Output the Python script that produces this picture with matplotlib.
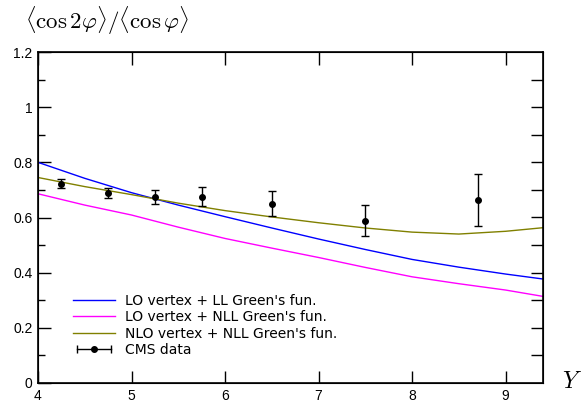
import numpy as np
import matplotlib.pyplot as plt
from matplotlib.ticker import MultipleLocator
from matplotlib.lines import Line2D
from matplotlib.legend_handler import HandlerLine2D

plt.rcParams['mathtext.fontset'] = 'cm'

# theory curves
Y = [4.0, 4.5, 5.0, 5.5, 6.0, 6.5, 7.0, 7.5, 8.0, 8.5, 9.0, 9.4]
lo_ll = [0.800, 0.742, 0.690, 0.645, 0.603, 0.562, 0.522, 0.484, 0.448, 0.420, 0.395, 0.377]
lo_nll = [0.686, 0.645, 0.609, 0.565, 0.524, 0.489, 0.455, 0.419, 0.385, 0.360, 0.337, 0.314]
nlo_nll = [0.745, 0.712, 0.683, 0.652, 0.625, 0.602, 0.581, 0.562, 0.547, 0.540, 0.550, 0.563]

# CMS data
Y_cms = [4.25, 4.75, 5.25, 5.75, 6.5, 7.5, 8.7]
val_cms = [0.722, 0.690, 0.674, 0.675, 0.650, 0.589, 0.664]
err_cms = [0.016, 0.018, 0.025, 0.034, 0.046, 0.057, 0.095]

fig = plt.figure(figsize=(5.82, 4.04), dpi=100)
ax = fig.add_axes([38/582, 21/404, 505/582, 331/404])

l1, = ax.plot(Y, lo_ll, color='#0000ff', lw=1)
l2, = ax.plot(Y, lo_nll, color='#ff00ff', lw=1)
l3, = ax.plot(Y, nlo_nll, color='#808000', lw=1)
ax.errorbar(Y_cms, val_cms, yerr=err_cms, fmt='o', color='black', ms=4,
            capsize=3, elinewidth=1, capthick=1)

ax.set_xlim(4, 9.4)
ax.set_ylim(0, 1.2)
ax.xaxis.set_major_locator(MultipleLocator(1))
ax.set_yticks(np.arange(0, 1.21, 0.2))
ax.set_yticklabels(['0', '0.2', '0.4', '0.6', '0.8', '1', '1.2'])
ax.yaxis.set_minor_locator(MultipleLocator(0.1))
ax.tick_params(which='major', direction='in', length=9, width=1, top=True, right=False,
               labelsize=10, pad=4)
ax.tick_params(which='minor', direction='in', length=5, width=1, left=True, right=False)
for lab in ax.get_xticklabels() + ax.get_yticklabels():
    lab.set_family('Liberation Sans')
for s in ax.spines.values():
    s.set_linewidth(1.2)

# right side: every 0.1 with full length ticks
ax2 = ax.twinx()
ax2.set_ylim(0, 1.2)
ax2.set_yticks(np.arange(0.1, 1.2, 0.1))
ax2.tick_params(direction='in', length=9, width=1, labelright=False)

# legend, CMS entry drawn like a horizontal error bar
bar = Line2D([], [], color='black', lw=1, marker='|', ms=6, mew=1)
dot = Line2D([], [], color='black', ls='none', marker='o', ms=4)
handles = [l1, l2, l3, (bar, dot)]
labels = ["LO vertex + LL Green's fun.", "LO vertex + NLL Green's fun.",
          "NLO vertex + NLL Green's fun.", 'CMS data']
ax.legend(handles, labels, loc='lower left', bbox_to_anchor=(0.045, 0.04), frameon=False,
          fontsize=10, handlelength=3.0, handletextpad=0.7, labelspacing=0.18,
          handler_map={bar: HandlerLine2D(numpoints=2), dot: HandlerLine2D(numpoints=1)})

fig.text(25/582, 1 - 21/404, r'$\langle\cos 2\varphi\rangle/\langle\cos\varphi\rangle$',
         fontsize=16.5, va='center', ha='left')
fig.text(572/582, 1 - 381/404, r'$Y$', fontsize=17, va='center', ha='center')

fig.savefig('out.png', dpi=100)
